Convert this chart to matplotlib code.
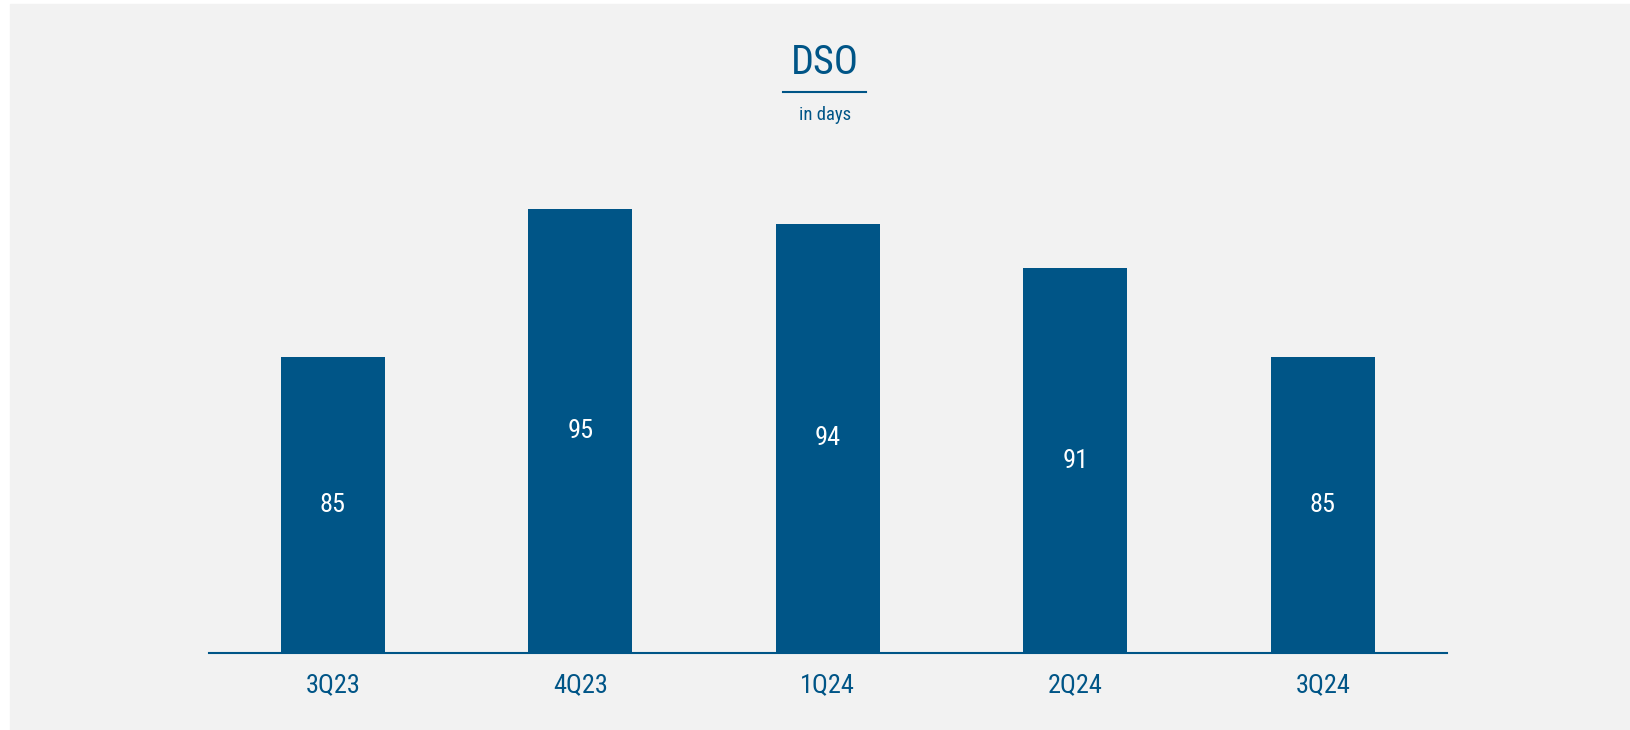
import numpy as np
import matplotlib
matplotlib.use('Agg')
import matplotlib.pyplot as plt
from matplotlib.patches import Rectangle

# data
quarters = ['3Q23', '4Q23', '1Q24', '2Q24', '3Q24']
dso_days = [85, 95, 94, 91, 85]

blue = '#005587'
bg = '#f2f2f2'
plt.rcParams['font.family'] = ['Roboto Condensed', 'Liberation Sans', 'DejaVu Sans']
plt.rcParams['font.weight'] = 'normal'

W, H = 1630, 730
fig = plt.figure(figsize=(W / 100, H / 100), dpi=100)
fig.patch.set_facecolor('white')
# grey panel
fig.patches.append(Rectangle((10 / W, 0), 1 - 10 / W, 1 - 4 / H,
                             transform=fig.transFigure, color=bg, zorder=-1))

# axes placed in pixels
left, right = 209, 1446.5
bottom = 653
ymin, ymax = 65, 100
px_per_unit = 14.8
top = bottom - (ymax - ymin) * px_per_unit
ax = fig.add_axes([left / W, (H - bottom) / H, (right - left) / W, (bottom - top) / H])
ax.set_facecolor('none')

x = np.arange(len(quarters))
bars = ax.bar(x, dso_days, width=0.42, bottom=0, color=blue, zorder=2)
ax.set_xlim(-0.5, len(quarters) - 0.5)
ax.set_ylim(ymin, ymax)

for xi, v in zip(x, dso_days):
    ax.text(xi, (v + ymin) / 2, str(v), ha='center', va='center',
            color='white', fontsize=19, zorder=3)

ax.set_xticks(x)
ax.set_xticklabels(quarters, fontsize=19, color=blue)
ax.tick_params(axis='x', length=0, pad=14.5)
ax.set_yticks([])
for s in ['top', 'right', 'left']:
    ax.spines[s].set_visible(False)
ax.spines['bottom'].set_color(blue)
ax.spines['bottom'].set_linewidth(1.5)
ax.spines['bottom'].set_zorder(4)

# title block
cx = 825 / W
fig.text(cx, 1 - 62 / H, 'DSO', ha='center', va='center', fontsize=29, color=blue)
fig.add_artist(plt.Line2D([783 / W, 866 / W], [1 - 92 / H, 1 - 92 / H],
                          color=blue, linewidth=1.5, transform=fig.transFigure))
fig.text(cx, 1 - 115 / H, 'in days', ha='center', va='center', fontsize=13.5, color=blue)

fig.savefig('out.png', dpi=100, facecolor=fig.get_facecolor())
